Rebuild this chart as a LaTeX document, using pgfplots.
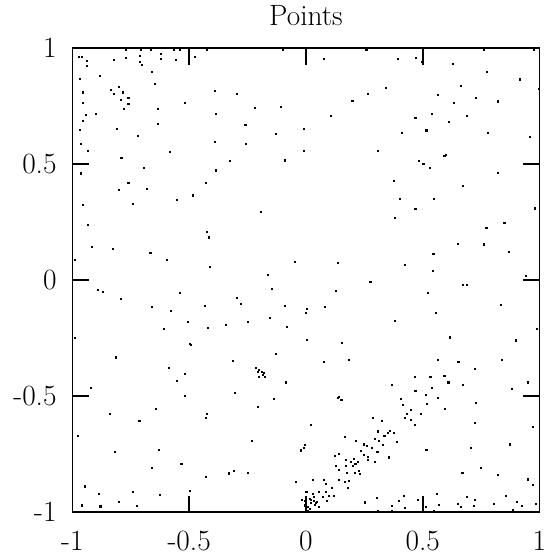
\documentclass[border=0pt]{standalone}
\usepackage{pgfplots}
\pgfplotsset{compat=1.18}
\newcommand{\bigfont}{\fontsize{29.6}{35}\selectfont}
\begin{document}
\begin{tikzpicture}
\begin{axis}[
  name=ax,
  scale only axis,
  width=469bp, height=466bp,
  xmin=-1, xmax=1, ymin=-1, ymax=1,
  xtick={-1,-0.5,0,0.5,1}, xticklabels={-1,-0.5,0,0.5,1},
  ytick={-1,-0.5,0,0.5,1}, yticklabels={-1,-0.5,0,0.5,1},
  major tick length=16.7bp,
  tick align=inside,
  axis line style={line width=1.6bp, black},
  every tick/.style={line width=1.6bp, black},
  xticklabel style={font=\bigfont, inner sep=0pt, anchor=north, yshift=-19bp},
  yticklabel style={font=\bigfont, inner sep=0pt, anchor=east, xshift=-15.7bp},
  title={Points},
  title style={font=\bigfont, inner sep=0pt, at={(0.5,1)}, anchor=base, yshift=17bp},
]
\addplot[only marks, mark=square*, mark size=0.55bp, black] coordinates {
(-0.973,0.962) (-0.962,0.962) (-0.940,0.947) (-0.940,0.926) (-0.825,0.951)
(-0.773,0.957) (-0.710,0.967) (-0.623,0.977) (-0.623,0.956) (-0.713,0.940)
(-0.704,0.927) (-0.557,0.949) (-0.476,0.964) (-0.884,0.883) (-0.659,0.899)
(-0.970,0.868) (-0.648,0.847) (-0.803,0.832) (-0.837,0.821) (-0.783,0.810)
(-0.825,0.804) (-0.955,0.810) (-0.389,0.818) (-0.761,0.788) (-0.795,0.777)
(-0.956,0.763) (-0.761,0.760) (-0.518,0.763) (-0.780,0.738) (-0.633,0.738)
(-0.943,0.713) (-0.901,0.717) (-0.386,0.717) (-0.957,0.687) (-0.635,0.673)
(-0.967,0.648) (-0.812,0.652) (-0.719,0.622) (-0.390,0.598) (-0.963,0.587)
(-0.935,0.559) (-0.582,0.553) (-0.791,0.527) (-0.693,0.483) (-0.386,0.474)
(-0.963,0.461) (-0.429,0.420) (-0.761,0.418) (-0.803,0.391) (-0.683,0.393)
(-0.484,0.366) (-0.552,0.348)
(-0.773,0.994) (-0.708,0.994) (-0.665,0.994) (-0.566,0.994) (-0.542,0.994) (-0.424,0.994)
(-0.098,0.994) (0.258,0.992) (0.761,0.994) (0.974,0.992)
(0.076,0.954) (-0.295,0.805) (0.266,0.805) (0.198,0.774) (-0.220,0.744)
(-0.107,0.749) (0.106,0.710) (-0.260,0.670) (-0.130,0.632) (-0.009,0.652)
(-0.257,0.588) (-0.009,0.558) (-0.092,0.517) (-0.325,0.513)
(0.391,0.953) (0.470,0.960) (0.498,0.942) (0.629,0.933) (0.775,0.899)
(0.915,0.866) (0.342,0.830) (0.662,0.837) (0.565,0.801) (0.727,0.785)
(0.821,0.771) (0.633,0.763) (0.539,0.719) (0.468,0.700) (0.687,0.707)
(0.612,0.683) (0.409,0.635) (0.515,0.646) (0.778,0.636) (0.309,0.559)
(0.592,0.538) (0.599,0.542) (0.484,0.513) (0.502,0.500) (0.528,0.483)
(0.822,0.464) (0.374,0.430) (0.672,0.408) (0.403,0.352) (0.548,0.352)
(0.996,0.824)
(-0.955,0.324) (-0.740,0.328) (-0.933,0.239) (-0.424,0.209) (-0.416,0.185)
(-0.916,0.145) (-0.829,0.136) (-0.667,0.119) (-0.598,0.087) (-0.992,0.087)
(-0.412,0.057) (-0.891,-0.040) (-0.871,-0.051) (-0.795,-0.081) (-0.542,-0.055)
(-0.662,-0.115) (-0.578,-0.132) (-0.432,-0.109) (-0.505,-0.178) (-0.420,-0.205)
(-0.608,-0.209) (-0.992,-0.247) (-0.498,-0.273) (-0.494,-0.277) (-0.815,-0.332)
(-0.193,0.295) (-0.048,0.078) (0.137,0.077) (-0.163,0.023) (0.275,-0.006)
(-0.147,-0.037) (0.127,-0.047) (-0.298,-0.077) (-0.281,-0.102) (-0.092,-0.111)
(0.005,-0.122) (-0.001,-0.139) (0.081,-0.115) (-0.154,-0.162) (-0.345,-0.192)
(-0.248,-0.178) (-0.082,-0.199) (0.005,-0.256) (0.153,-0.270) (-0.130,-0.318)
(0.468,0.308) (0.380,0.271) (0.849,0.247) (0.772,0.226) (0.649,0.159)
(0.761,0.155) (0.869,0.121) (0.545,0.115) (0.424,0.065) (0.544,0.040)
(0.673,-0.021) (0.689,-0.021) (0.521,-0.055) (0.832,-0.105) (0.556,-0.142)
(0.380,-0.176) (0.616,-0.246) (0.898,-0.259)
(0.96,0.62) (0.98,0.31) (0.94,0.02) (0.99,-0.21) (0.95,-0.44) (0.97,-0.63)
(-0.586,-0.378) (-0.518,-0.405) (-0.552,-0.433) (-0.922,-0.463) (-0.518,-0.497)
(-0.642,-0.555) (-0.842,-0.575) (-0.424,-0.575) (-0.429,-0.591) (-0.714,-0.604)
(-0.979,-0.670) (-0.820,-0.738) (-0.631,-0.729) (-0.534,-0.790) (-0.662,-0.808)
(-0.430,-0.848) (-0.948,-0.888) (-0.889,-0.920) (-0.740,-0.910) (-0.628,-0.923)
(-0.497,-0.908) (-0.800,-0.953) (-0.962,-0.970) (-0.881,-0.974) (-0.726,-0.971)
(-0.312,-0.348) (0.077,-0.352) (0.183,-0.344)
(-0.214,-0.379) (-0.201,-0.385) (-0.206,-0.395) (-0.191,-0.396) (-0.181,-0.398)
(-0.185,-0.408) (-0.204,-0.416) (-0.176,-0.416)
(-0.086,-0.440) (-0.304,-0.484) (-0.137,-0.510) (-0.206,-0.545)
(0.139,-0.503) (0.136,-0.508) (0.151,-0.514) (0.020,-0.622) (-0.232,-0.692)
(-0.005,-0.710) (-0.008,-0.724) (-0.022,-0.733) (0.165,-0.673) (0.212,-0.690)
(0.246,-0.707) (0.259,-0.714) (0.234,-0.736) (0.139,-0.749) (0.122,-0.756)
(0.249,-0.753) (0.264,-0.761) (0.264,-0.773) (0.204,-0.768) (0.171,-0.773)
(0.190,-0.784) (0.220,-0.783) (0.211,-0.791) (0.126,-0.800) (0.171,-0.801)
(0.201,-0.801) (0.141,-0.818) (0.225,-0.822) (0.231,-0.834) (0.173,-0.830)
(0.208,-0.831) (-0.331,-0.832) (-0.308,-0.822) (-0.251,-0.830) (-0.043,-0.869)
(0.029,-0.859) (0.076,-0.861) (0.083,-0.876) (0.139,-0.859) (0.165,-0.868)
(0.184,-0.864) (0.110,-0.896) (0.178,-0.893) (-0.002,-0.910) (0.003,-0.910)
(0.028,-0.919) (0.056,-0.912) (0.084,-0.913) (0.033,-0.933) (0.070,-0.932)
(0.097,-0.930) (0.119,-0.929) (-0.017,-0.945) (-0.005,-0.949) (0.015,-0.942)
(0.022,-0.947) (0.035,-0.951) (0.047,-0.953) (0.042,-0.959) (0.022,-0.959)
(0.087,-0.949) (-0.005,-0.970) (0.006,-0.976) (0.036,-0.967) (0.053,-0.976)
(0.015,-0.984) (0.252,-0.957) (0.009,-0.993)
(0.565,-0.341) (0.652,-0.352) (0.839,-0.344) (0.723,-0.380) (0.464,-0.416)
(0.532,-0.418) (0.592,-0.413) (0.609,-0.440) (0.369,-0.452) (0.672,-0.452)
(0.538,-0.464) (0.468,-0.476) (0.881,-0.469) (0.511,-0.494) (0.565,-0.507)
(0.404,-0.511) (0.728,-0.528) (0.519,-0.534) (0.413,-0.537) (0.593,-0.553)
(0.447,-0.558) (0.491,-0.575) (0.431,-0.575) (0.421,-0.592) (0.447,-0.601)
(0.284,-0.592) (0.323,-0.607) (0.467,-0.623) (0.721,-0.614) (0.306,-0.651)
(0.357,-0.648) (0.349,-0.657) (0.376,-0.657) (0.335,-0.669) (0.293,-0.682)
(0.312,-0.692) (0.387,-0.696) (0.330,-0.709) (0.281,-0.723) (0.305,-0.740)
(0.515,-0.729) (0.704,-0.721) (0.873,-0.707) (0.356,-0.763) (0.293,-0.784)
(0.750,-0.808) (0.669,-0.828) (0.821,-0.838) (0.559,-0.922) (0.420,-0.930)
(0.302,-0.939) (0.399,-0.949) (0.480,-0.947) (0.689,-0.933) (0.723,-0.945)
(0.855,-0.929) (0.903,-0.956) (0.649,-0.962) (0.804,-0.962) (0.569,-0.967)
(0.366,-0.971) (0.424,-0.980) (0.514,-0.976) (0.661,-0.976) (0.719,-0.971)
(0.306,-0.994) (0.366,-0.994) (0.548,-0.994) (0.886,-0.990)
(0.951,-0.858) (0.970,-0.881) (0.983,-0.964) (0.924,-0.971)
};
\end{axis}
\pgfresetboundingbox
\path ([shift={(-72.7bp,-46bp)}]ax.south west) rectangle ([shift={(8.3bp,48.3bp)}]ax.north east);
\end{tikzpicture}
\end{document}
